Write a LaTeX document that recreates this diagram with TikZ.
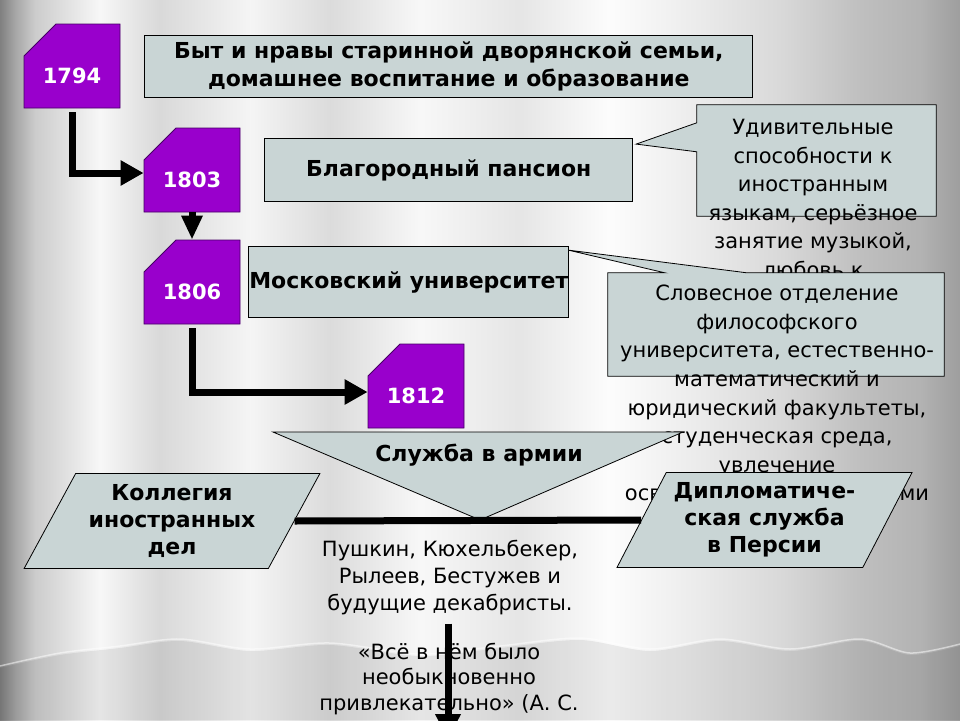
\documentclass[tikz,border=0pt]{standalone}
\usepackage{fontspec}
\setmainfont{DejaVu Sans}
\usetikzlibrary{positioning,calc,shapes.misc,shapes.geometric,arrows.meta}

\definecolor{yearfill}{RGB}{153,0,204}
\definecolor{yearline}{RGB}{70,0,100}
\definecolor{boxfill}{RGB}{201,213,213}

\pgfdeclarehorizontalshading{curtain}{100bp}{%
  color(0bp)=(black!50); color(25bp)=(black!50);
  color(25.78bp)=(black!35); color(26.82bp)=(black!20);
  color(30.21bp)=(black!3); color(33.33bp)=(black!15);
  color(38.02bp)=(black!4); color(42.19bp)=(black!14);
  color(46.88bp)=(black!3); color(52.08bp)=(black!10);
  color(56.77bp)=(black!1); color(61.46bp)=(black!8);
  color(65.63bp)=(black!15); color(69.79bp)=(black!25);
  color(72.92bp)=(black!30); color(75bp)=(black!38);
  color(100bp)=(black!38)}

\begin{document}
\begin{tikzpicture}[x=1pt, y=-1pt,
    year/.style={chamfered rectangle, chamfered rectangle corners=north west,
      chamfered rectangle sep=16pt, inner sep=0pt, draw=yearline, fill=yearfill,
      line width=0.8pt, minimum width=96pt, minimum height=84pt,
      text=white, font=\bfseries\fontsize{21}{24}\selectfont,
      text height=34pt, text depth=0pt},
    topic/.style={draw, fill=boxfill, line width=0.8pt, align=center,
      inner xsep=2pt, font=\bfseries\fontsize{22}{28}\selectfont},
    callout/.style={draw, fill=boxfill, line width=0.8pt},
    note/.style={align=center, inner sep=0pt, font=\fontsize{21}{28.6}\selectfont},
    branch/.style={trapezium, trapezium left angle=59, trapezium right angle=121,
      trapezium stretches=true, minimum width=296pt, minimum height=95pt,
      draw, fill=boxfill, line width=0.8pt, align=center, inner sep=1pt,
      font=\bfseries\fontsize{22}{27}\selectfont},
    flow/.style={line width=7pt, -{Triangle[length=23pt,width=24pt]}},
    bar/.style={line width=7pt},
  ]
    % Background
    \useasboundingbox (0,0) rectangle (960,720);
    \clip (0,0) rectangle (960,720);
    \shade[shading=curtain] (0,0) rectangle (960,720);
    \fill[black, opacity=.07] plot[smooth] coordinates {(0,668) (60,655) (120,648)
      (180,641) (250,651) (330,645) (420,656) (500,648) (580,640) (650,651)
      (720,641) (790,651) (860,641) (910,655) (960,646)} -- (960,720) -- (0,720) -- cycle;
    \draw[white, opacity=.5, line width=1.5pt] plot[smooth] coordinates {(0,666) (60,653)
      (120,646) (180,639) (250,649) (330,643) (420,654) (500,646) (580,638) (650,649)
      (720,639) (790,649) (860,639) (910,653) (960,644)};

    % Nodes
    \node[year] (y1794) at (72,66) {1794};
    \node[year] (y1803) at (192,170) {1803};
    \node[year] (y1806) at (192,282) {1806};
    \node[year] (y1812) at (416,386) {1812};

    \node[topic, right=24pt of y1794, minimum width=608pt, minimum height=62pt] (byt)
      {Быт и нравы старинной дворянской семьи,\\домашнее воспитание и образование};
    \node[topic, right=24pt of y1803, minimum width=368pt, minimum height=63pt] (pans)
      {Благородный пансион};
    \node[topic, right=8pt of y1806, minimum width=320pt, minimum height=71pt,
      inner xsep=0pt] (univ) {Московский университет};

    % Callouts
    \node[minimum width=239pt, minimum height=111pt] (cbA) at (816.5,160.5) {};
    \coordinate (tipA) at ($(pans.north east)+(3,6)$);
    \filldraw[callout] (cbA.north west) -- (cbA.north east) -- (cbA.south east)
      -- (cbA.south west) -- ($(cbA.north west)+(0,47)$) -- (tipA)
      -- ($(cbA.north west)+(0,18)$) -- cycle;
    \node[note, anchor=north] (txtA) at (813,119) {Удивительные\\способности к\\иностранным\\языкам, серьёзное\\занятие музыкой,\\любовь к};

    \node[minimum width=336pt, minimum height=103pt] (cbB) at (776,324.5) {};
    \coordinate (tipB) at ($(univ.north east)+(-1,4)$);
    \filldraw[callout] (cbB.north west) -- ($(cbB.north west)+(57,0)$) -- (tipB)
      -- ($(cbB.north west)+(139,0)$) -- (cbB.north east) -- (cbB.south east)
      -- (cbB.south west) -- cycle;
    \node[note, anchor=north] (txtB) at (777,285) {Словесное отделение\\философского\\университета, естественно-\\математический и\\юридический факультеты,\\студенческая среда,\\увлечение\\освободительными идеями};

    % Service
    \coordinate (armyL) at (273,432);
    \coordinate (armyR) at (683,432);
    \coordinate (armyT) at (480,520);
    \filldraw[callout] (armyL) -- (armyR) -- (armyT) -- cycle;
    \node[font=\bfseries\fontsize{22}{24}\selectfont] (army) at (479,455) {Служба в армии};

    \node[branch] (kol) at (172,521) {Коллегия\\иностранных\\дел};
    \node[branch] (dip) at (764.5,520) {Дипломатиче-\\ская служба\\в Персии};

    \node[note, font=\fontsize{21}{27}\selectfont] (dek) at (450,578)
      {Пушкин, Кюхельбекер,\\Рылеев, Бестужев и\\будущие декабристы.};
    \node[note, font=\fontsize{21}{25.5}\selectfont] (quote) at (449,679)
      {«Всё в нём было\\необыкновенно\\привлекательно» (А. С.};
    \coordinate (down) at (448,740);

    % Edges
    \draw[flow] ([yshift=-4pt]y1794.south) |- ([yshift=-3pt]y1803.west);
    \draw[flow, -{Triangle[length=24pt,width=20pt]}] (y1803.south) -- (y1806.north);
    \draw[flow] ([yshift=-4pt]y1806.south) |- ([yshift=-6pt]y1812.west);
    \draw[bar] (kol.east) -- (dip.west);
    \draw[flow, -{Triangle[length=26pt,width=24pt]}] ([yshift=-8pt]dek.south -| down) -- (down);
\end{tikzpicture}
\end{document}
